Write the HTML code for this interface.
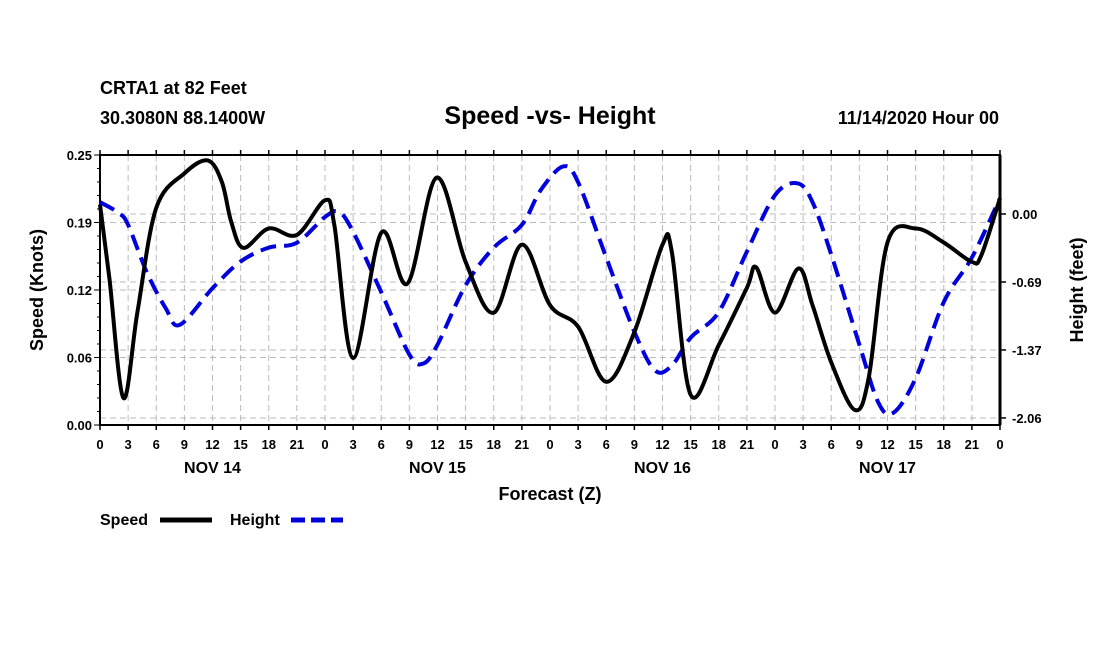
<!DOCTYPE html>
<html><head><meta charset="utf-8"><style>
body{margin:0;background:#fff;}
svg text{font-family:"Liberation Sans",sans-serif;font-weight:bold;fill:#000;}
</style></head><body>
<svg id="c" width="1100" height="650" xmlns="http://www.w3.org/2000/svg">
<text x="100" y="94" font-size="18">CRTA1 at 82 Feet</text>
<text x="100" y="124" font-size="18">30.3080N 88.1400W</text>
<text x="550" y="124" font-size="25" text-anchor="middle">Speed -vs- Height</text>
<text x="999" y="124" font-size="18" text-anchor="end">11/14/2020 Hour 00</text>
<g id="grid"></g>
<g id="axes"></g>
<g id="series"></g>
<text x="550" y="500" font-size="18" text-anchor="middle">Forecast (Z)</text>
<text transform="translate(43,290) rotate(-90)" font-size="18" text-anchor="middle">Speed (Knots)</text>
<text transform="translate(1083,290) rotate(-90)" font-size="18" text-anchor="middle">Height (feet)</text>
<g>
<text x="100" y="525" font-size="16">Speed</text>
<line x1="160" y1="520" x2="212" y2="520" stroke="#000" stroke-width="5"/>
<text x="230" y="525" font-size="16">Height</text>
<line x1="291" y1="520" x2="343" y2="520" stroke="#0000dd" stroke-width="5" stroke-dasharray="14,6"/>
</g>
</svg>
<script>
const speedHours=[0,1,2.5,4,6,9,11.5,13,14,15.3,18,21,24,25,27,30,32.8,35.9,39,42,45,48,51,54,57,60,61,63,66,69,70,72,74.5,76,78,80.5,82,84,87,90,93,94,96];
const speedValues=[0.204,0.136,0.025,0.105,0.201,0.233,0.245,0.225,0.188,0.164,0.182,0.176,0.208,0.185,0.062,0.178,0.131,0.229,0.151,0.104,0.167,0.111,0.091,0.040,0.086,0.167,0.160,0.028,0.074,0.127,0.146,0.104,0.145,0.111,0.058,0.014,0.044,0.169,0.182,0.169,0.151,0.157,0.210];
const heightHours=[0,2,3,5,7,8.5,12,15,18,21,24,25.5,27,30,33,34.5,36,39,42,45,47,49.4,51,54,57,59.2,61,63,66,69,72,74.4,76,78,81,83,84.6,87,90,93,96];
const heightValues=[0.12,0.01,-0.11,-0.59,-0.95,-1.12,-0.75,-0.48,-0.34,-0.29,-0.03,0.02,-0.18,-0.79,-1.42,-1.51,-1.32,-0.72,-0.34,-0.11,0.24,0.48,0.32,-0.44,-1.19,-1.58,-1.53,-1.25,-0.99,-0.38,0.19,0.31,0.12,-0.41,-1.32,-1.90,-2.01,-1.66,-0.89,-0.44,0.16];
const xTickLabels=['0','3','6','9','12','15','18','21'];
const dayLabels=['NOV 14','NOV 15','NOV 16','NOV 17'];
const leftTicks=['0.00','0.06','0.12','0.19','0.25'];
const rightTicks=['0.00','-0.69','-1.37','-2.06'];

const X0=100,X1=1000,Y0=425,Y1=155;
const xS=h=>X0+h*(X1-X0)/96;
const yL=v=>Y0-v*(Y0-Y1)/0.25;
const yR=v=>214-v*99;
const NS='http://www.w3.org/2000/svg';
function mk(parent,tag,attrs){const e=document.createElementNS(NS,tag);for(const k in attrs)e.setAttribute(k,attrs[k]);document.getElementById(parent).appendChild(e);return e;}
// grid
for(let i=1;i<32;i++){const l=mk('grid','line',{x1:xS(i*3),x2:xS(i*3),y1:Y1,y2:Y0,stroke:'#bbb','stroke-dasharray':'6,4'});

}
for(let i=1;i<4;i++){const l=mk('grid','line',{x1:X0,x2:X1,y1:yL(i*0.0625),y2:yL(i*0.0625),stroke:'#bbb','stroke-dasharray':'6,4'});

}
for(let i=0;i<4;i++){const v=-i*0.6867;const l=mk('grid','line',{x1:X0,x2:X1,y1:yR(v),y2:yR(v),stroke:'#bbb','stroke-dasharray':'6,4'});

}
// frame
const fr=mk('axes','rect',{x:X0,y:Y1,width:X1-X0,height:Y0-Y1,fill:'none',stroke:'#000','stroke-width':2});


mk('axes','line',{x1:X1,x2:X1,y1:Y1,y2:Y0,stroke:'#000','stroke-width':3});
// x ticks
for(let i=0;i<=32;i++){const x=xS(i*3);
mk('axes','line',{x1:x,x2:x,y1:Y0,y2:Y0+5,stroke:'#000','stroke-width':1.5});
mk('axes','line',{x1:x,x2:x,y1:Y1,y2:Y1-5,stroke:'#000','stroke-width':1.5});
const t=mk('axes','text',{x:x,y:Y0+24,'font-size':13,'text-anchor':'middle'});t.textContent=xTickLabels[i%8];

}
dayLabels.forEach((d,i)=>{const t=mk('axes','text',{x:xS(12+24*i),y:Y0+48,'font-size':16,'text-anchor':'middle'});t.textContent=d;

});
// left ticks
for(let i=0;i<=20;i++){const y=yL(i*0.0125);mk('axes','line',{x1:X0-(i%5==0?6:3),x2:X0,y1:y,y2:y,stroke:'#000','stroke-width':1});}
leftTicks.forEach((s,i)=>{const t=mk('axes','text',{x:X0-8,y:yL(i*0.0625)+5,'font-size':13,'text-anchor':'end'});t.textContent=s;

});
rightTicks.forEach((s,i)=>{const y=yR(-i*0.6867);mk('axes','line',{x1:X1,x2:X1+6,y1:y,y2:y,stroke:'#000','stroke-width':1.5});
const t=mk('axes','text',{x:X1+12,y:y+5,'font-size':13});t.textContent=s;

});
// series
function path(hs,vs,ys){const p=hs.map((h,i)=>[xS(h),ys(vs[i])]);let d='M'+p[0][0]+','+p[0][1];
for(let i=0;i<p.length-1;i++){const a=p[Math.max(0,i-1)],b=p[i],c=p[i+1],e=p[Math.min(p.length-1,i+2)];
d+=` C${b[0]+(c[0]-a[0])/6},${b[1]+(c[1]-a[1])/6} ${c[0]-(e[0]-b[0])/6},${c[1]-(e[1]-b[1])/6} ${c[0]},${c[1]}`;}return d;}
const hp=mk('series','path',{d:path(heightHours,heightValues,yR),fill:'none',stroke:'#0000dd','stroke-width':4,'stroke-dasharray':'16,8'});


const sp=mk('series','path',{d:path(speedHours,speedValues,yL),fill:'none',stroke:'#000','stroke-width':4});


</script>
</body></html>
